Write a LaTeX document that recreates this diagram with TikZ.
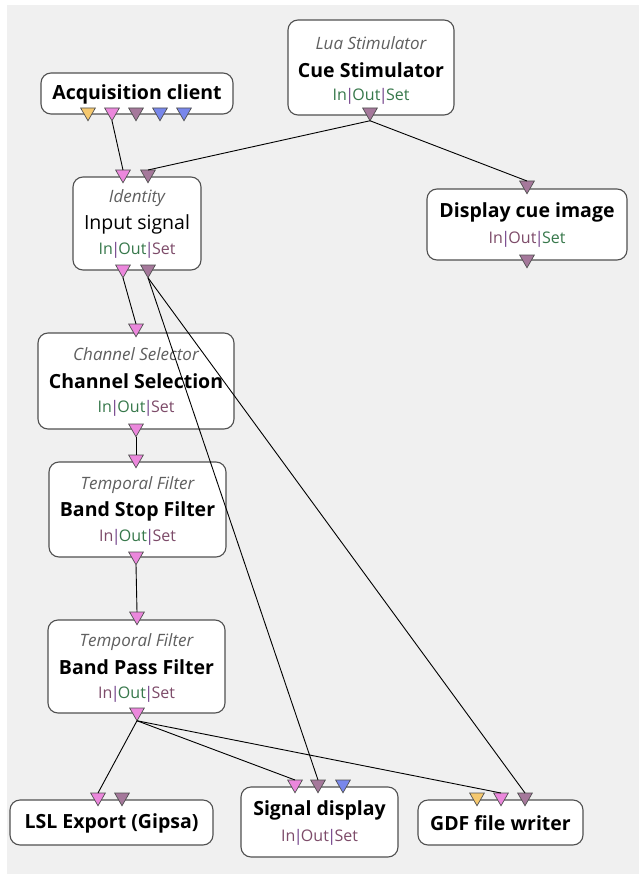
\documentclass[tikz,border=0pt]{standalone}
\usepackage{fontspec}
\setmainfont{Open Sans}
\usetikzlibrary{shapes.geometric}

\definecolor{bgpanel}{RGB}{240,240,240}
\definecolor{boxline}{RGB}{80,80,80}
\definecolor{subgray}{RGB}{95,95,95}
\definecolor{setgreen}{RGB}{55,120,75}
\definecolor{setbrown}{RGB}{125,75,105}
\definecolor{barpurple}{RGB}{110,60,135}
\definecolor{pinyellow}{RGB}{245,200,110}
\definecolor{pinpink}{RGB}{235,135,220}
\definecolor{pinmauve}{RGB}{165,120,155}
\definecolor{pinblue}{RGB}{120,135,235}

% In|Out|Set status line, one colour per field, tight bars
\newcommand{\iobar}{\kern-1.6pt{\color{barpurple}|}\kern-1.6pt}
\newcommand{\ioset}[3]{{\color{#1}In}\iobar{\color{#2}Out}\iobar{\color{#3}Set}}

\tikzset{
  box/.style={draw=boxline, line width=1.1pt, fill=white, rounded corners=10pt,
              inner sep=0pt, outer sep=0pt},
  title/.style={font=\fontsize{19.5}{22}\selectfont\bfseries, text=black, inner sep=0pt},
  plain/.style={font=\fontsize{19.5}{22}\selectfont, text=black, inner sep=0pt},
  sub/.style={font=\fontsize{17}{19}\selectfont\itshape, text=subgray, inner sep=0pt},
  stat/.style={font=\fontsize{16}{18}\selectfont, inner sep=0pt},
  pin/.style={regular polygon, regular polygon sides=3, shape border rotate=180,
              minimum size=17pt, inner sep=0pt, outer sep=0pt, anchor=north,
              draw=boxline, line width=0.7pt, fill=#1},
  wire/.style={draw=black, line width=0.9pt},
}

\begin{document}
\begin{tikzpicture}[x=1pt, y=-1pt]
\useasboundingbox (0,0) rectangle (639,874);
\fill[white] (0,0) rectangle (639,874);
\fill[bgpanel] (7,5) rectangle (639,874);

% ---- boxes ----
\node[box, minimum width=192pt, minimum height=41pt] (acq) at (137,93.5) {};
\node[title] (acqT) at (137,94) {Acquisition client};

\node[box, minimum width=166pt, minimum height=95pt] (cue) at (371,67.5) {};
\node[sub] (cueS) at (371,43) {Lua Stimulator};
\node[title] (cueT) at (371,70) {Cue Stimulator};
\node[stat] (cueI) at (371,96) {\ioset{setgreen}{setgreen}{setgreen}};

\node[box, minimum width=128pt, minimum height=93pt] (inp) at (137,223.5) {};
\node[sub] (inpS) at (137,198) {Identity};
\node[plain] (inpT) at (137,224) {Input signal};
\node[stat] (inpI) at (137,250) {\ioset{setgreen}{setgreen}{setbrown}};

\node[box, minimum width=200pt, minimum height=71pt] (disp) at (527,224.5) {};
\node[title] (dispT) at (527,212) {Display cue image};
\node[stat] (dispI) at (527,239) {\ioset{setbrown}{setbrown}{setgreen}};

\node[box, minimum width=196pt, minimum height=96pt] (chan) at (136,381) {};
\node[sub] (chanS) at (136,354) {Channel Selector};
\node[title] (chanT) at (136,381) {Channel Selection};
\node[stat] (chanI) at (136,408) {\ioset{setgreen}{setgreen}{setbrown}};

\node[box, minimum width=177pt, minimum height=95pt] (stop) at (137.5,509.5) {};
\node[sub] (stopS) at (137.5,485) {Temporal Filter};
\node[title] (stopT) at (137.5,511) {Band Stop Filter};
\node[stat] (stopI) at (137.5,537) {\ioset{setbrown}{setgreen}{setbrown}};

\node[box, minimum width=177pt, minimum height=93pt] (pass) at (136.5,666.5) {};
\node[sub] (passS) at (136.5,642) {Temporal Filter};
\node[title] (passT) at (136.5,667) {Band Pass Filter};
\node[stat] (passI) at (136.5,694) {\ioset{setbrown}{setgreen}{setbrown}};

\node[box, minimum width=203pt, minimum height=45pt] (lsl) at (111.5,822.5) {};
\node[title] (lslT) at (111.5,823) {LSL Export (Gipsa)};

\node[box, minimum width=157pt, minimum height=70pt] (sig) at (319.5,822) {};
\node[title] (sigT) at (319.5,810) {Signal display};
\node[stat] (sigI) at (319.5,837) {\ioset{setbrown}{setbrown}{setbrown}};

\node[box, minimum width=165pt, minimum height=45pt] (gdf) at (500.5,822.5) {};
\node[title] (gdfT) at (500.5,823) {GDF file writer};

% ---- connectors (pins) ----
\node[pin=pinyellow] (acqO1) at (88,108) {};
\node[pin=pinpink]   (acqO2) at (112,108) {};
\node[pin=pinmauve]  (acqO3) at (136,108) {};
\node[pin=pinblue]   (acqO4) at (160,108) {};
\node[pin=pinblue]   (acqO5) at (184,108) {};

\node[pin=pinmauve] (cueO1) at (370,108) {};

\node[pin=pinpink]  (inpI1) at (123,170) {};
\node[pin=pinmauve] (inpI2) at (148,170) {};
\node[pin=pinpink]  (inpO1) at (123,265) {};
\node[pin=pinmauve] (inpO2) at (148,265) {};

\node[pin=pinmauve] (dispI1) at (527,181) {};
\node[pin=pinmauve] (dispO1) at (527,255) {};

\node[pin=pinpink] (chanI1) at (136,324) {};
\node[pin=pinpink] (chanO1) at (136,424) {};

\node[pin=pinpink] (stopI1) at (136,455) {};
\node[pin=pinpink] (stopO1) at (136,552) {};

\node[pin=pinpink] (passI1) at (137,612) {};
\node[pin=pinpink] (passO1) at (137,708) {};

\node[pin=pinpink]  (lslI1) at (98,793) {};
\node[pin=pinmauve] (lslI2) at (122,793) {};

\node[pin=pinpink]  (sigI1) at (295,780) {};
\node[pin=pinmauve] (sigI2) at (318,780) {};
\node[pin=pinblue]  (sigI3) at (343,780) {};

\node[pin=pinyellow] (gdfI1) at (477,793) {};
\node[pin=pinpink]   (gdfI2) at (501,793) {};
\node[pin=pinmauve]  (gdfI3) at (525,793) {};

% ---- wires ----
\draw[wire] (acqO2.south) -- (inpI1.north);
\draw[wire] (cueO1.south) -- (inpI2.north);
\draw[wire] (cueO1.south) -- (dispI1.north);
\draw[wire] (inpO1.south) -- (chanI1.north);
\draw[wire] (inpO2.south) -- (sigI2.north);
\draw[wire] (inpO2.south) -- (gdfI3.north);
\draw[wire] (chanO1.south) -- (stopI1.north);
\draw[wire] (stopO1.south) -- (passI1.north);
\draw[wire] (passO1.south) -- (lslI1.north);
\draw[wire] (passO1.south) -- (sigI1.north);
\draw[wire] (passO1.south) -- (gdfI2.north);
\end{tikzpicture}
\end{document}
